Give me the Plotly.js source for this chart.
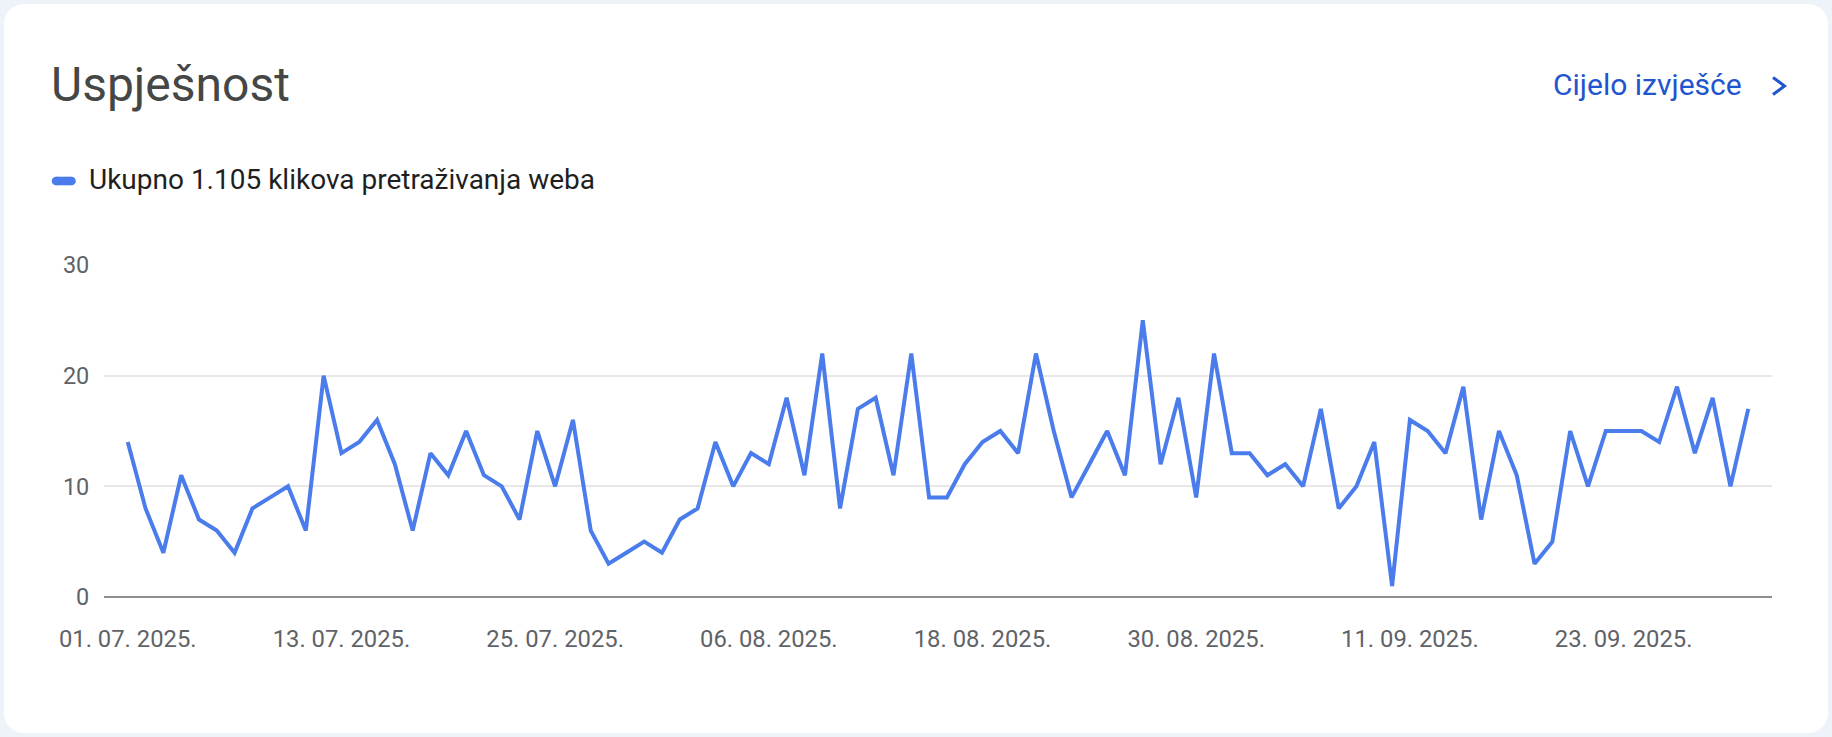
<!DOCTYPE html>
<html>
<head>
<meta charset="utf-8">
<script src="https://cdn.plot.ly/plotly-3.0.1.min.js"></script>
<style>
  html, body { margin: 0; padding: 0; background: #eef2f9; width: 1832px; height: 737px; overflow: hidden; }
  #card { position: absolute; left: 4px; top: 4px; width: 1824px; height: 729px; background: #ffffff; border-radius: 20px; }
  #chart { position: absolute; left: 0; top: 0; width: 1832px; height: 737px; }
</style>
</head>
<body>
<div id="card"></div>
<div id="chart"></div>
<script>
// ---- data ----
const dates = [
  '2025-07-01','2025-07-02','2025-07-03','2025-07-04','2025-07-05','2025-07-06','2025-07-07','2025-07-08','2025-07-09','2025-07-10',
  '2025-07-11','2025-07-12','2025-07-13','2025-07-14','2025-07-15','2025-07-16','2025-07-17','2025-07-18','2025-07-19','2025-07-20',
  '2025-07-21','2025-07-22','2025-07-23','2025-07-24','2025-07-25','2025-07-26','2025-07-27','2025-07-28','2025-07-29','2025-07-30',
  '2025-07-31',
  '2025-08-01','2025-08-02','2025-08-03','2025-08-04','2025-08-05','2025-08-06','2025-08-07','2025-08-08','2025-08-09','2025-08-10',
  '2025-08-11','2025-08-12','2025-08-13','2025-08-14','2025-08-15','2025-08-16','2025-08-17','2025-08-18','2025-08-19','2025-08-20',
  '2025-08-21','2025-08-22','2025-08-23','2025-08-24','2025-08-25','2025-08-26','2025-08-27','2025-08-28','2025-08-29','2025-08-30',
  '2025-08-31',
  '2025-09-01','2025-09-02','2025-09-03','2025-09-04','2025-09-05','2025-09-06','2025-09-07','2025-09-08','2025-09-09','2025-09-10',
  '2025-09-11','2025-09-12','2025-09-13','2025-09-14','2025-09-15','2025-09-16','2025-09-17','2025-09-18','2025-09-19','2025-09-20',
  '2025-09-21','2025-09-22','2025-09-23','2025-09-24','2025-09-25','2025-09-26','2025-09-27','2025-09-28','2025-09-29','2025-09-30'
];
const clicks = [
  14,8,4,11,7,6,4,8,9,10,6,20,13,14,16,12,6,13,11,15,11,10,7,15,10,16,6,3,4,5,4,
  7,8,14,10,13,12,18,11,22,8,17,18,11,22,9,9,12,14,15,13,22,15,9,12,15,11,25,12,18,9,22,
  13,13,11,12,10,17,8,10,14,1,16,15,13,19,7,15,11,3,5,15,10,15,15,15,14,19,13,18,10,17
];
const tickDates = ['2025-07-01','2025-07-13','2025-07-25','2025-08-06','2025-08-18','2025-08-30','2025-09-11','2025-09-23'];
const tickLabels = ['01. 07. 2025.','13. 07. 2025.','25. 07. 2025.','06. 08. 2025.','18. 08. 2025.','30. 08. 2025.','11. 09. 2025.','23. 09. 2025.'];
const yTicks = [0, 10, 20, 30];
const titleText = 'Uspješnost';
const legendText = 'Ukupno 1.105 klikova pretraživanja weba';
const linkText = 'Cijelo izvješće';

// ---- layout helpers (pixel -> paper) ----
const W = 1832, H = 737;
const ML = 104, MR = 60, MT = 265, MB = 140;
const PW = W - ML - MR, PH = H - MT - MB;
const X = px => (px - ML) / PW;
const Y = py => (H - MB - py) / PH;

const lineColor = '#4a7ceb';
const linkColor = '#1f55cf';

const trace = {
  x: dates, y: clicks, type: 'scatter', mode: 'lines',
  line: { color: lineColor, width: 4, shape: 'linear' },
  hoverinfo: 'x+y', showlegend: false
};

const pillR = 4.3;
const layout = {
  width: W, height: H,
  margin: { l: ML, r: MR, t: MT, b: MB, pad: 0 },
  paper_bgcolor: 'rgba(0,0,0,0)', plot_bgcolor: 'rgba(0,0,0,0)',
  showlegend: false,
  font: { family: 'Roboto, sans-serif', color: '#5f6368' },
  xaxis: {
    type: 'date',
    range: ['2025-06-29 16:00', '2025-10-01 08:00'],
    tickmode: 'array', tickvals: tickDates, ticktext: tickLabels,
    showgrid: false, zeroline: false, showline: false,
    ticks: 'outside', ticklen: 20, tickcolor: 'rgba(0,0,0,0)',
    tickfont: { family: 'Roboto, sans-serif', size: 23.8, color: '#5f6368' },
    fixedrange: true
  },
  yaxis: {
    range: [0, 30],
    tickmode: 'array', tickvals: yTicks,
    showgrid: true, gridcolor: '#e8e8e8', gridwidth: 2,
    zeroline: true, zerolinecolor: '#8e8e8e', zerolinewidth: 2.5,
    showline: false,
    ticks: 'outside', ticklen: 9, tickcolor: 'rgba(0,0,0,0)',
    tickfont: { family: 'Roboto, sans-serif', size: 23.5, color: '#5f6368' },
    fixedrange: true
  },
  annotations: [
    { text: titleText, xref: 'paper', yref: 'paper', x: X(49), y: Y(84), xanchor: 'left', yanchor: 'middle',
      showarrow: false, font: { family: 'Roboto, sans-serif', size: 48, color: '#444746' } },
    { text: legendText, xref: 'paper', yref: 'paper', x: X(87), y: Y(180), xanchor: 'left', yanchor: 'middle',
      showarrow: false, font: { family: 'Roboto, sans-serif', size: 28, color: '#1f1f1f' } },
    { text: linkText, xref: 'paper', yref: 'paper', x: X(1744), y: Y(85), xanchor: 'right', yanchor: 'middle',
      showarrow: false, font: { family: 'Roboto, sans-serif', size: 30, color: linkColor, weight: 400 } }
  ],
  shapes: [
    // legend pill
    { type: 'rect', xref: 'paper', yref: 'paper', x0: X(56), x1: X(71.5), y0: Y(176.7), y1: Y(185.3),
      fillcolor: lineColor, line: { width: 0 } },
    { type: 'circle', xref: 'paper', yref: 'paper', x0: X(56 - pillR), x1: X(56 + pillR), y0: Y(181 - pillR), y1: Y(181 + pillR),
      fillcolor: lineColor, line: { width: 0 } },
    { type: 'circle', xref: 'paper', yref: 'paper', x0: X(71.5 - pillR), x1: X(71.5 + pillR), y0: Y(181 - pillR), y1: Y(181 + pillR),
      fillcolor: lineColor, line: { width: 0 } },
    // chevron
    { type: 'path', xref: 'paper', yref: 'paper',
      path: 'M ' + X(1773) + ' ' + Y(77.5) + ' L ' + X(1784.5) + ' ' + Y(86) + ' L ' + X(1773) + ' ' + Y(94.5),
      line: { color: linkColor, width: 3 } }
  ]
};

Plotly.newPlot('chart', [trace], layout, { displayModeBar: false, staticPlot: true });
</script>
</body>
</html>
